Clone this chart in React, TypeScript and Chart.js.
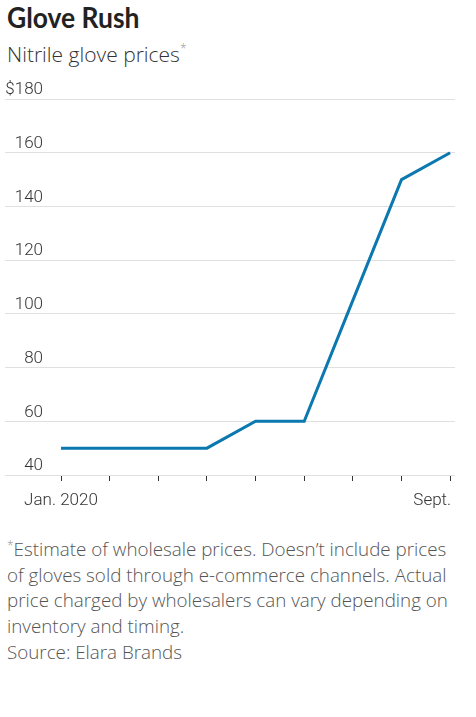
import React, { useEffect, useRef } from "react";
import { Chart, registerables } from "chart.js";

Chart.register(...registerables);

const months = ["Jan. 2020", "Feb.", "March", "April", "May", "June", "July", "Aug.", "Sept."];
const xTickLabels = ["Jan. 2020", "", "", "", "", "", "", "", "Sept."];
const prices = [50, 50, 50, 50, 60, 60, 105, 150, 160];
const yTickValues = [40, 60, 80, 100, 120, 140, 160, 180];
const yTickLabels = ["40", "60", "80", "100", "120", "140", "160", "$180"];

const AXIS_FAMILY = "Roboto, 'Liberation Sans', sans-serif";

const xLabelPlugin = {
  id: "xLabels",
  afterDraw(chart: any) {
    const xs = chart.scales.x;
    const ctx = chart.ctx;
    const last = xTickLabels.length - 1;
    ctx.save();
    ctx.font = `300 17px ${AXIS_FAMILY}`;
    ctx.fillStyle = "#333";
    ctx.textBaseline = "alphabetic";
    xTickLabels.forEach((lab, i) => {
      if (!lab) return;
      const px = xs.getPixelForValue(i);
      ctx.textAlign = i === last ? "right" : "center";
      ctx.fillText(lab, i === last ? px + 1 : px, chart.chartArea.bottom + 30);
    });
    ctx.restore();
  },
};

export default function App() {
  const ref = useRef<HTMLCanvasElement | null>(null);

  useEffect(() => {
    document.body.style.margin = "0";
    const chart = new Chart(ref.current!, {
      type: "line",
      data: {
        labels: months,
        datasets: [
          {
            data: prices.map((v, i) => ({ x: i, y: v })),
            borderColor: "#0b78b0",
            borderWidth: 3,
            pointRadius: 0,
            tension: 0,
            fill: false,
          },
        ],
      },
      plugins: [xLabelPlugin],
      options: {
        animation: false,
        responsive: true,
        maintainAspectRatio: false,
        layout: { padding: { top: 29, left: 5, right: 21, bottom: 0 } },
        plugins: { legend: { display: false }, tooltip: { enabled: false } },
        scales: {
          x: {
            type: "linear",
            min: 0,
            max: 8.1,
            border: { display: false },
            grid: {
              display: true,
              drawOnChartArea: false,
              drawTicks: true,
              tickLength: 6,
              tickColor: "#333",
              lineWidth: 1,
            },
            ticks: { display: false, stepSize: 1, includeBounds: false },
            afterFit(scale: any) {
              scale.height = 35;
            },
          },
          y: {
            min: 40,
            max: 180,
            border: { display: false },
            grid: { color: "#e0e0e0", lineWidth: 1, drawTicks: true, tickLength: 56 },
            afterBuildTicks(scale: any) {
              scale.ticks = yTickValues.map((v) => ({ value: v }));
            },
            ticks: {
              padding: -38,
              labelOffset: -9,
              crossAlign: "near",
              color: "#333",
              font: { family: AXIS_FAMILY, size: 17, weight: "300" as any },
              callback: (v: any) => {
                const idx = yTickValues.indexOf(Number(v));
                return idx >= 0 ? yTickLabels[idx] : "";
              },
            },
            afterFit(scale: any) {
              scale.width = 56;
            },
          },
        },
      },
    });
    return () => chart.destroy();
  }, []);

  return (
    <div style={{ position: "relative", width: 476, height: 717, background: "#fff" }}>
      <div
        style={{
          position: "absolute",
          left: 7,
          top: 0,
          fontFamily: "Lato, sans-serif",
          fontWeight: 700,
          fontSize: 29,
          lineHeight: "34px",
          color: "#222",
          whiteSpace: "nowrap",
          transform: "scaleX(0.912)",
          transformOrigin: "left top",
        }}
      >
        Glove Rush
      </div>
      <div
        style={{
          position: "absolute",
          left: 7,
          top: 35.5,
          fontFamily: "'Open Sans', sans-serif",
          fontWeight: 300,
          fontSize: 21,
          lineHeight: "26px",
          color: "#333",
          whiteSpace: "nowrap",
        }}
      >
        Nitrile glove prices
        <span style={{ fontSize: 12, color: "#999", verticalAlign: "9px" }}>*</span>
      </div>
      <div style={{ position: "absolute", left: 0, top: 70, width: 476, height: 440 }}>
        <canvas ref={ref} />
      </div>
      <div
        style={{
          position: "absolute",
          left: 7,
          top: 533,
          fontFamily: "'Open Sans', sans-serif",
          fontWeight: 300,
          fontSize: 18.8,
          lineHeight: "25.7px",
          color: "#555",
          whiteSpace: "nowrap",
        }}
      >
        <span style={{ fontSize: 12, color: "#999", verticalAlign: "6px" }}>*</span>
        Estimate of wholesale prices. Doesn’t include prices
        <br />
        of gloves sold through e-commerce channels. Actual
        <br />
        price charged by wholesalers can vary depending on
        <br />
        inventory and timing.
        <br />
        Source: Elara Brands
      </div>
    </div>
  );
}
